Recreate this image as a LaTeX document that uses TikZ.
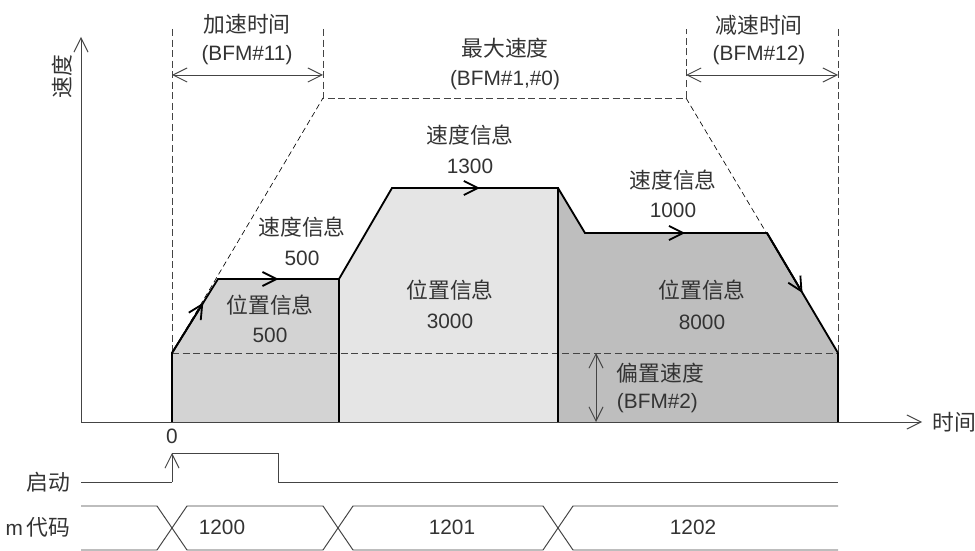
\documentclass[tikz,border=0pt]{standalone}
\usepackage{fontspec}
\setmainfont{Liberation Sans}
\newfontfamily\cjk{Noto Sans CJK SC}
\usetikzlibrary{arrows.meta,calc}
\definecolor{txtgray}{HTML}{333333}
\definecolor{linegray}{HTML}{444444}
\definecolor{segA}{HTML}{D3D3D3}
\definecolor{segB}{HTML}{E5E5E5}
\definecolor{segC}{HTML}{BEBEBE}

\begin{document}
\begin{tikzpicture}[x=0.025cm, y=-0.025cm,
  >={Straight Barb[length=10pt,width=10pt]},
  font=\fontsize{14.8}{16}\selectfont, text=txtgray,
  prof/.style={draw=black, line width=1.3pt, line join=miter},
  guide/.style={draw=linegray, line width=0.6pt, dash pattern=on 5pt off 2.5pt},
  slant/.style={draw=black, line width=0.45pt, dash pattern=on 4pt off 2.5pt},
  axis/.style={draw=linegray, line width=0.7pt},
  zh/.style={font=\cjk\fontsize{15.5}{17}\selectfont}]
\useasboundingbox (0,0) rectangle (975,551);
% key points of the speed profile
\coordinate (o) at (172,422);
\coordinate (b0) at (172,353);
\coordinate (a1) at (218,279);
\coordinate (a2) at (339,279);
\coordinate (a3) at (339,422);
\coordinate (c1) at (392,188);
\coordinate (c2) at (558,188);
\coordinate (c3) at (558,422);
\coordinate (d1) at (585,233);
\coordinate (d2) at (767,233);
\coordinate (d3) at (838,353);
\coordinate (d4) at (838,422);
\coordinate (m1) at (323,98);
\coordinate (m2) at (686,98);
% filled segments
\fill[segA] (o) -- (b0) -- (a1) -- (a2) -- (a3) -- cycle;
\fill[segB] (a3) -- (a2) -- (c1) -- (c2) -- (c3) -- cycle;
\fill[segC] (c3) -- (c2) -- (d1) -- (d2) -- (d3) -- (d4) -- cycle;
% guide lines (max speed, acc/dec time, bias speed)
\draw[guide] (172,29) -- (b0);
\draw[guide] (838,29) -- (d3);
\draw[guide] (323,29) -- (m1) -- (m2) -- (686,29);
\draw[slant] (b0) -- (m1);
\draw[slant] (m2) -- (d3);
\draw[guide] (b0) -- (d3);
% profile outline
\draw[prof] (o) -- (b0) -- (a1) -- (a2) -- (a3);
\draw[prof] (a2) -- (c1) -- (c2) -- (c3);
\draw[prof] (c2) -- (d1) -- (d2) -- (d3) -- (d4);
\draw[prof, ->] (b0) -- ($(b0)!0.68!(a1)$);
\draw[prof, ->] (a1) -- ($(a1)!0.5!(a2)$);
\draw[prof, ->] (c1) -- ($(c1)!0.53!(c2)$);
\draw[prof, ->] (d1) -- ($(d1)!0.55!(d2)$);
\draw[prof, ->] (d2) -- ($(d2)!0.5!(d3)$);
% axes
\coordinate (org) at (81,422);
\draw[axis, ->] (org) -- (81,37);
\draw[axis, ->] (org) -- (922,422);
\node[zh, rotate=90] (vlab) at (62,77) {速度};
\node[zh, anchor=west] (tlab) at (928,422) {时间};
% dimension arrows
\draw[axis, <->] (172,75) -- (323,75);
\draw[axis, <->] (686,75) -- (838,75);
\draw[axis, <->] (596,353) -- (596,422);
% labels
\node[zh] (acc) at (247,24) {加速时间};
\node (accb) at (247,55) {(BFM\#11)};
\node[zh] (vmax) at (505,48) {最大速度};
\node (vmaxb) at (505,80) {(BFM\#1,\#0)};
\node[zh] (dec) at (759,25) {减速时间};
\node (decb) at (759,55) {(BFM\#12)};
\node[zh] (sp1) at (302,227) {速度信息};
\node (sp1v) at (302,258) {500};
\node[zh] (ps1) at (270,305) {位置信息};
\node (ps1v) at (270,335) {500};
\node[zh] (sp2) at (470,135) {速度信息};
\node (sp2v) at (470,166) {1300};
\node[zh] (ps2) at (450,290) {位置信息};
\node (ps2v) at (450,321) {3000};
\node[zh] (sp3) at (673,180) {速度信息};
\node (sp3v) at (673,210) {1000};
\node[zh] (ps3) at (702,290) {位置信息};
\node (ps3v) at (702,322) {8000};
\node[zh, anchor=west] (bias) at (612,373) {偏置速度};
\node[anchor=west] (biasb) at (612,403) {(BFM\#2)};
% start signal
\node (zero) at (172,436) {0};
\node[zh, anchor=east] (start) at (75,482) {启动};
\draw[axis] (81,482) -- (172,482);
\draw[axis, ->] (172,482) -- (172,453);
\draw[axis] (172,453) -- (278,453) -- (278,482) -- (838,482);
% m code bus
\node[anchor=east] (mcode) at (75,527) {m\,{\cjk\fontsize{15.5}{17}\selectfont 代码}};
\draw[axis] (81,506) -- (157,506) -- (187,550) -- (323,550) -- (353,506) -- (543,506) -- (573,550) -- (838,550);
\draw[axis] (81,550) -- (157,550) -- (187,506) -- (323,506) -- (353,550) -- (543,550) -- (573,506) -- (838,506);
\node (c1200) at (222,527) {1200};
\node (c1201) at (452,527) {1201};
\node (c1202) at (693,527) {1202};
\end{tikzpicture}
\end{document}
